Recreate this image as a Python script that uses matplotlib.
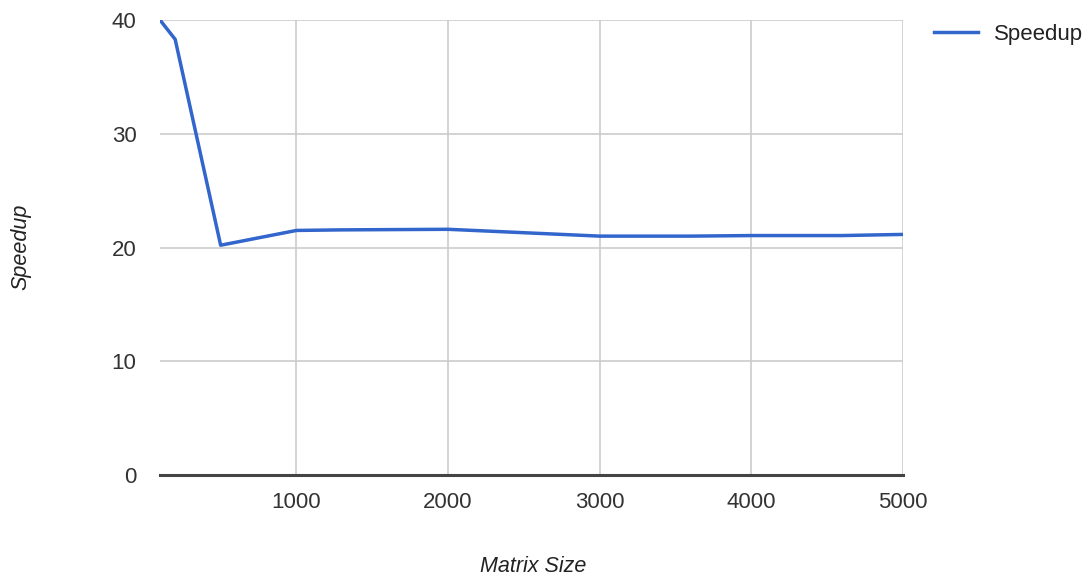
import matplotlib.pyplot as plt

plt.rcParams['font.family'] = ['Liberation Sans', 'DejaVu Sans']

matrix_size = [100, 200, 500, 1000, 1300, 2000, 3000, 3600, 4000, 4600, 5000]
speedup = [40.0, 38.3, 20.2, 21.5, 21.55, 21.6, 21.0, 21.0, 21.05, 21.05, 21.15]
x_ticks = [1000, 2000, 3000, 4000, 5000]
y_ticks = [0, 10, 20, 30, 40]

fig = plt.figure(figsize=(10.9, 5.83), dpi=100)
ax = fig.add_axes([160/1090, 1-475/583, (903-160)/1090, (475-20)/583])

ax.plot(matrix_size, speedup, color="#3366cc", lw=2.5, label="Speedup",
        solid_joinstyle="round", zorder=3)

ax.set_xlim(100, 5000)
ax.set_ylim(0, 40)
ax.set_xticks(x_ticks)
ax.set_yticks(y_ticks)
ax.grid(True, color="#cccccc", lw=1.2)
ax.axhline(0, color="#444444", lw=2.2, zorder=4, clip_on=False)
for s in ax.spines.values():
    s.set_visible(False)
ax.tick_params(length=0, labelsize=16, labelcolor="#333333")
ax.tick_params(axis="x", pad=12)
ax.tick_params(axis="y", pad=17)

fig.text(533/1090, 1-567/583, "Matrix Size", style="italic", fontsize=15.5,
         color="#222222", ha="center", va="center")
fig.text(21/1090, 1-247/583, "Speedup", style="italic", fontsize=15.5,
         color="#222222", ha="center", va="center", rotation=90)

leg = ax.legend(loc="upper left", bbox_to_anchor=(925/1090, 1-15/583),
                bbox_transform=fig.transFigure, frameon=False, fontsize=16,
                handlelength=2.0, handletextpad=0.7, borderaxespad=0)
for t in leg.get_texts():
    t.set_color("#222222")

fig.savefig("out.png", dpi=100)
